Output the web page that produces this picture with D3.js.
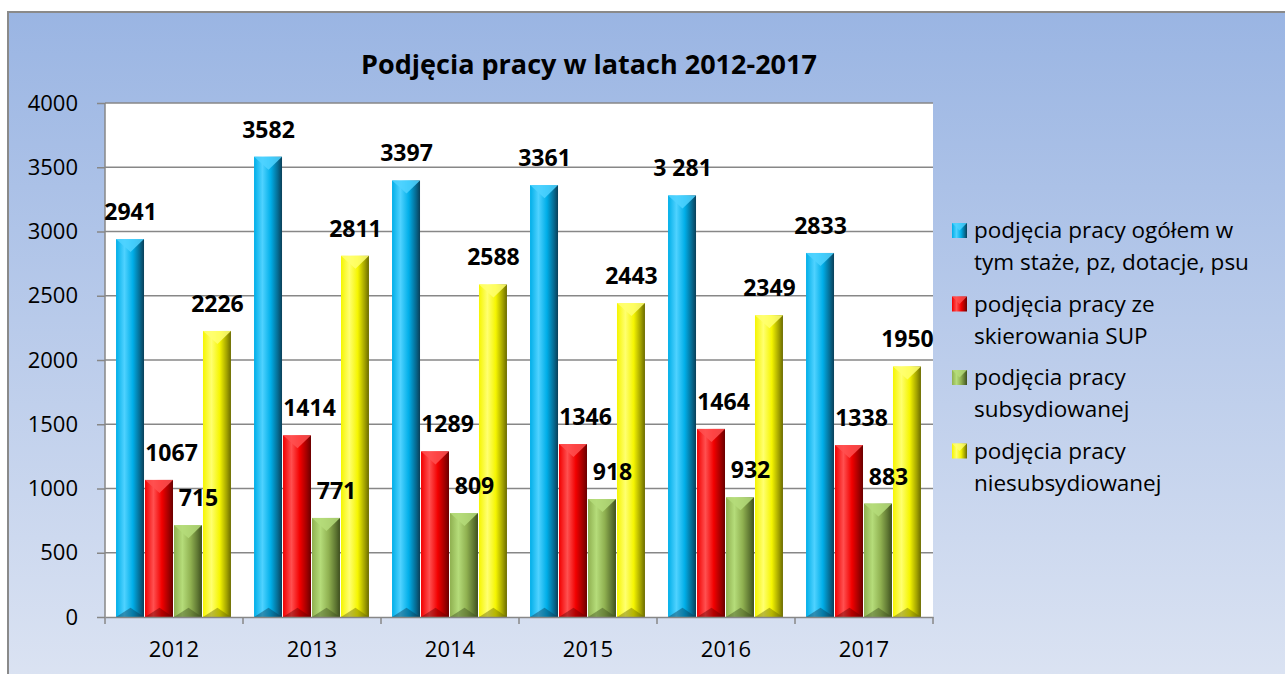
<!DOCTYPE html>
<html>
<head>
<meta charset="utf-8">
<script src="https://cdn.jsdelivr.net/npm/d3@7"></script>
<style>
  body { margin: 0; background: #fff; }
  svg { display: block; font-family: "Open Sans", sans-serif; }
</style>
</head>
<body>
<svg id="chart" width="1285" height="674"></svg>
<script>
// data
var years = ["2012", "2013", "2014", "2015", "2016", "2017"];
var ogolem = [2941, 3582, 3397, 3361, 3281, 2833];
var zeSkierowania = [1067, 1414, 1289, 1346, 1464, 1338];
var subsydiowanej = [715, 771, 809, 918, 932, 883];
var niesubsydiowanej = [2226, 2811, 2588, 2443, 2349, 1950];
var ogolemLabels = ["2941", "3582", "3397", "3361", "3 281", "2833"];
var yTicks = [0, 500, 1000, 1500, 2000, 2500, 3000, 3500, 4000];
var legendLines = [
  ["podjęcia pracy ogółem w", "tym staże, pz, dotacje, psu"],
  ["podjęcia pracy ze", "skierowania SUP"],
  ["podjęcia pracy", "subsydiowanej"],
  ["podjęcia pracy", "niesubsydiowanej"]
];

var series = [ogolem, zeSkierowania, subsydiowanej, niesubsydiowanej];
var seriesLabels = [ogolemLabels, zeSkierowania.map(String), subsydiowanej.map(String), niesubsydiowanej.map(String)];

// colours: light, base, dark
var colors = [
  {light: "#4fd2ff", base: "#00aee8", dark: "#0a3f58"},
  {light: "#ff5050", base: "#f20000", dark: "#6a0000"},
  {light: "#b5dc7a", base: "#8fb050", dark: "#3e4f1e"},
  {light: "#ffff70", base: "#f5f500", dark: "#6b6b00"}
];
var labelShift = [0, 12, 10, 0];

var svg = d3.select("#chart");
var defs = svg.append("defs");

var bg = defs.append("linearGradient").attr("id", "bg").attr("x1", 0).attr("y1", 0).attr("x2", 0).attr("y2", 1);
bg.append("stop").attr("offset", "0%").attr("stop-color", "#9ab5e3");
bg.append("stop").attr("offset", "100%").attr("stop-color", "#dee5f3");

colors.forEach(function(c, i) {
  var g = defs.append("linearGradient").attr("id", "bar" + i).attr("x1", 0).attr("y1", 0).attr("x2", 1).attr("y2", 0);
  g.append("stop").attr("offset", "0%").attr("stop-color", c.base);
  g.append("stop").attr("offset", "30%").attr("stop-color", c.light);
  g.append("stop").attr("offset", "60%").attr("stop-color", c.base);
  g.append("stop").attr("offset", "85%").attr("stop-color", d3.interpolateRgb(c.base, c.dark)(0.6));
  g.append("stop").attr("offset", "100%").attr("stop-color", c.dark);
});

// chart background with border
svg.append("rect")
  .attr("x", 8).attr("y", 12).attr("width", 1300).attr("height", 700)
  .attr("fill", "url(#bg)").attr("stroke", "#8a8a8a").attr("stroke-width", 2);

var margin = {top: 103, left: 105};
var plotW = 828, plotH = 514;

var chart = svg.append("g").attr("transform", "translate(" + margin.left + "," + margin.top + ")");

var x = d3.scaleBand().domain(years).range([0, plotW]).paddingInner(0.16).paddingOuter(0.08);
var xs = d3.scaleBand().domain(d3.range(series.length)).range([0, x.bandwidth()]);
var y = d3.scaleLinear().domain([0, 4000]).range([plotH, 0]);

chart.append("rect").attr("width", plotW).attr("height", plotH).attr("fill", "#fff");

// gridlines
chart.append("g")
  .selectAll("line").data(yTicks.slice(1)).enter().append("line")
  .attr("x1", 0).attr("x2", plotW)
  .attr("y1", function(d) { return y(d); }).attr("y2", function(d) { return y(d); })
  .attr("stroke", "#878787").attr("stroke-width", 1.3);

// y axis
var yAxis = chart.append("g")
  .call(d3.axisLeft(y).tickValues(yTicks).tickFormat(d3.format("d")).tickSize(8).tickPadding(19));
yAxis.selectAll("path, line").attr("stroke", "#878787").attr("stroke-width", 1.5);
yAxis.select(".domain").attr("d", "M0," + plotH + "V0");
yAxis.selectAll("text").attr("font-size", 22).attr("fill", "#000").attr("font-family", "Open Sans");

// bars
var groups = chart.selectAll(".grp").data(years).enter().append("g")
  .attr("class", "grp")
  .attr("transform", function(d) { return "translate(" + x(d) + ",0)"; });
var labelLayer = chart.append("g");

series.forEach(function(vals, si) {
  var w = xs.bandwidth();
  groups.each(function(yr, yi) {
    var g = d3.select(this);
    var bx = xs(si), top = y(vals[yi]), h = plotH - top;
    var bevel = w * 0.45;
    g.append("rect")
      .attr("x", bx).attr("y", top).attr("width", w - 1).attr("height", h)
      .attr("fill", "url(#bar" + si + ")");
    // top bevel
    g.append("path")
      .attr("d", "M" + bx + "," + top + "L" + (bx + w - 1) + "," + top + "L" + (bx + w / 2) + "," + (top + bevel) + "Z")
      .attr("fill", colors[si].light).attr("opacity", 0.85);
    // bottom bevel
    g.append("path")
      .attr("d", "M" + bx + "," + plotH + "L" + (bx + w - 1) + "," + plotH + "L" + (bx + w / 2) + "," + (plotH - bevel * 0.7) + "Z")
      .attr("fill", colors[si].dark).attr("opacity", 0.45);
    // value label
    labelLayer.append("text")
      .attr("x", x(yr) + bx + w / 2 + labelShift[si]).attr("y", top - 19)
      .attr("text-anchor", "middle")
      .attr("font-size", 23).attr("font-weight", "bold")
      .text(seriesLabels[si][yi]);
  });
});

// x axis
var xAxis = chart.append("g")
  .attr("transform", "translate(0," + plotH + ")")
  .call(d3.axisBottom(x).tickSize(0).tickPadding(24));
xAxis.select(".domain").attr("stroke", "#878787").attr("stroke-width", 1.5);
xAxis.selectAll("text").attr("font-size", 22).attr("fill", "#000").attr("font-family", "Open Sans");
xAxis.selectAll(".sep").data(d3.range(years.length + 1)).enter().append("line")
  .attr("x1", function(i) { return i * x.step(); }).attr("x2", function(i) { return i * x.step(); })
  .attr("y1", 0).attr("y2", 7)
  .attr("stroke", "#878787").attr("stroke-width", 1.5);

// title
svg.append("text")
  .attr("x", 589).attr("y", 74)
  .attr("text-anchor", "middle")
  .attr("font-size", 27).attr("font-weight", "bold")
  .text("Podjęcia pracy w latach 2012-2017");

// legend
var legend = svg.append("g").attr("transform", "translate(952,223)");
var item = legend.selectAll(".item").data(legendLines).enter().append("g")
  .attr("transform", function(d, i) { return "translate(0," + (i * 73.5) + ")"; });
item.append("rect")
  .attr("width", 15).attr("height", 15)
  .attr("fill", function(d, i) { return "url(#bar" + i + ")"; });
item.append("path")
  .attr("d", "M0,0L15,0L7.5,7.5Z")
  .attr("fill", function(d, i) { return colors[i].light; }).attr("opacity", 0.8);
item.append("text")
  .attr("x", 22).attr("y", 15)
  .attr("font-size", 22.5)
  .selectAll("tspan").data(function(d) { return d; }).enter().append("tspan")
  .attr("x", 22).attr("dy", function(d, i) { return i === 0 ? 0 : 32; })
  .text(function(d) { return d; });
</script>
</body>
</html>
